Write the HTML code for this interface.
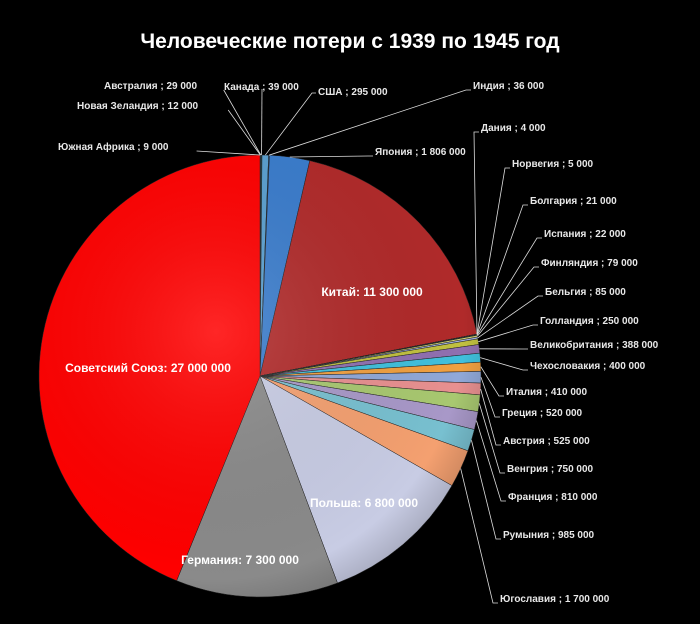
<!DOCTYPE html>
<html><head><meta charset="utf-8"><style>
html,body{margin:0;padding:0;background:#000;}
svg{display:block;}
text{font-family:"Liberation Sans",sans-serif;}
</style></head><body>
<svg id="chart" width="700" height="624" viewBox="0 0 700 624">
<defs>
<radialGradient id="shade" cx="0.4" cy="0.4" r="0.7">
<stop offset="0" stop-color="#fff" stop-opacity="0.15"/>
<stop offset="0.8" stop-color="#000" stop-opacity="0"/>
<stop offset="1" stop-color="#000" stop-opacity="0.25"/>
</radialGradient>
</defs>
<text x="350" y="48" text-anchor="middle" font-size="21" font-weight="bold" fill="#fff">Человеческие потери с 1939 по 1945 год</text>
<g id="slices"></g>
<circle cx="260" cy="376" r="221" fill="url(#shade)" pointer-events="none"></circle>
<g id="labels"></g>
</svg>
<script>
const categories=["Южная Африка","Новая Зеландия","Австралия","Канада","США","Индия","Япония","Китай","Дания","Норвегия","Болгария","Испания","Финляндия","Бельгия","Голландия","Великобритания","Чехословакия","Италия","Греция","Австрия","Венгрия","Франция","Румыния","Югославия","Польша","Германия","Советский Союз"];
const values=[9000,12000,29000,39000,295000,36000,1806000,11300000,4000,5000,21000,22000,79000,85000,250000,388000,400000,410000,520000,525000,750000,810000,985000,1700000,6800000,7300000,27000000];
const valueLabels=["9 000","12 000","29 000","39 000","295 000","36 000","1 806 000","11 300 000","4 000","5 000","21 000","22 000","79 000","85 000","250 000","388 000","400 000","410 000","520 000","525 000","750 000","810 000","985 000","1 700 000","6 800 000","7 300 000","27 000 000"];
const colors=["#7080a0","#a0a0a0","#4a90c0","#2a8a9a","#5aa0d0","#3070b0","#3a7ccc","#b02a2a","#8090c0","#c0a0d0","#e0c070","#90c0e0","#d0d070","#a0b0e0","#c0c040","#9070b0","#40c0dc","#f0a040","#90a8d8","#e89090","#a8c870","#a898c8","#78c0d0","#f4a070","#c8cce4","#8a8a8a","#ff0000"];
// label anchors (layout)
const labelPos={"Южная Африка":[58,146,"start"],"Новая Зеландия":[77,105,"start"],"Австралия":[104,85,"start"],"Канада":[224,86,"start"],"США":[318,91,"start"],"Индия":[473,85,"start"],"Япония":[375,151,"start"],"Дания":[481,127,"start"],"Норвегия":[512,163,"start"],"Болгария":[530,200,"start"],"Испания":[544,233,"start"],"Финляндия":[541,262,"start"],"Бельгия":[545,291,"start"],"Голландия":[540,320,"start"],"Великобритания":[530,344,"start"],"Чехословакия":[530,365,"start"],"Италия":[506,391,"start"],"Греция":[502,412,"start"],"Австрия":[503,440,"start"],"Венгрия":[507,468,"start"],"Франция":[508,496,"start"],"Румыния":[503,534,"start"],"Югославия":[500,598,"start"]};
const inside={"Китай":[372,292],"Советский Союз":[148,368],"Германия":[240,560],"Польша":[364,503]};
const cx=260,cy=376,R=221;
const NS="http://www.w3.org/2000/svg";
const total=values.reduce((a,b)=>a+b,0);
function ang(v){return v/total*Math.PI*2;}
function pt(a,r){return [cx+r*Math.sin(a),cy-r*Math.cos(a)];}
const gS=document.getElementById('slices'),gL=document.getElementById('labels');
let acc=0;
values.forEach((v,i)=>{
  const a0=ang(acc),a1=ang(acc+v);acc+=v;
  const p0=pt(a0,R),p1=pt(a1,R);
  const large=(a1-a0)>Math.PI?1:0;
  const p=document.createElementNS(NS,'path');
  p.setAttribute('d',`M${cx},${cy}L${p0[0]},${p0[1]}A${R},${R} 0 ${large} 1 ${p1[0]},${p1[1]}Z`);
  p.setAttribute('fill',colors[i]);
  p.setAttribute('stroke','#222');p.setAttribute('stroke-width','0.5');
  
  
  gS.appendChild(p);
  const name=categories[i],mid=(a0+a1)/2;
  if(inside[name]){
    const t=document.createElementNS(NS,'text');
    t.setAttribute('x',inside[name][0]);t.setAttribute('y',inside[name][1]+4);
    t.setAttribute('text-anchor','middle');t.setAttribute('font-size','12');t.setAttribute('font-weight','bold');t.setAttribute('fill','#fff');
    t.textContent=name+': '+valueLabels[i];
    
    
    gL.appendChild(t);
  } else if(labelPos[name]){
    const lp=labelPos[name];const e=pt(mid,R);
    const bx=lp[0]-2,by=lp[1]+5;
    const l=document.createElementNS(NS,'polyline');
    let pts;
    if(lp[0]>cx+40) pts=`${e[0]},${e[1]} ${bx-5},${by} ${bx},${by}`;
    else if(lp[0]<150) { const w=lp[0]+ (name.length+10)*6.3; pts=`${e[0]},${e[1]} ${w},${by}`; }
    else pts=`${e[0]},${e[1]} ${lp[0]+38},${by-2}`;
    if(name==="США") pts=`${e[0]},${e[1]} ${bx-4},${by-3} ${bx},${by-3}`;
    l.setAttribute('points',pts);l.setAttribute('fill','none');l.setAttribute('stroke','#ddd');l.setAttribute('stroke-width','0.8');
    
    
    gL.appendChild(l);
    const t=document.createElementNS(NS,'text');
    t.setAttribute('x',lp[0]);t.setAttribute('y',lp[1]+4);t.setAttribute('font-size','10');t.setAttribute('font-weight','bold');t.setAttribute('fill','#e8e8e8');
    t.textContent=name+' ;  '+valueLabels[i];
    
    
    gL.appendChild(t);
  }
});
</script>
</body></html>
